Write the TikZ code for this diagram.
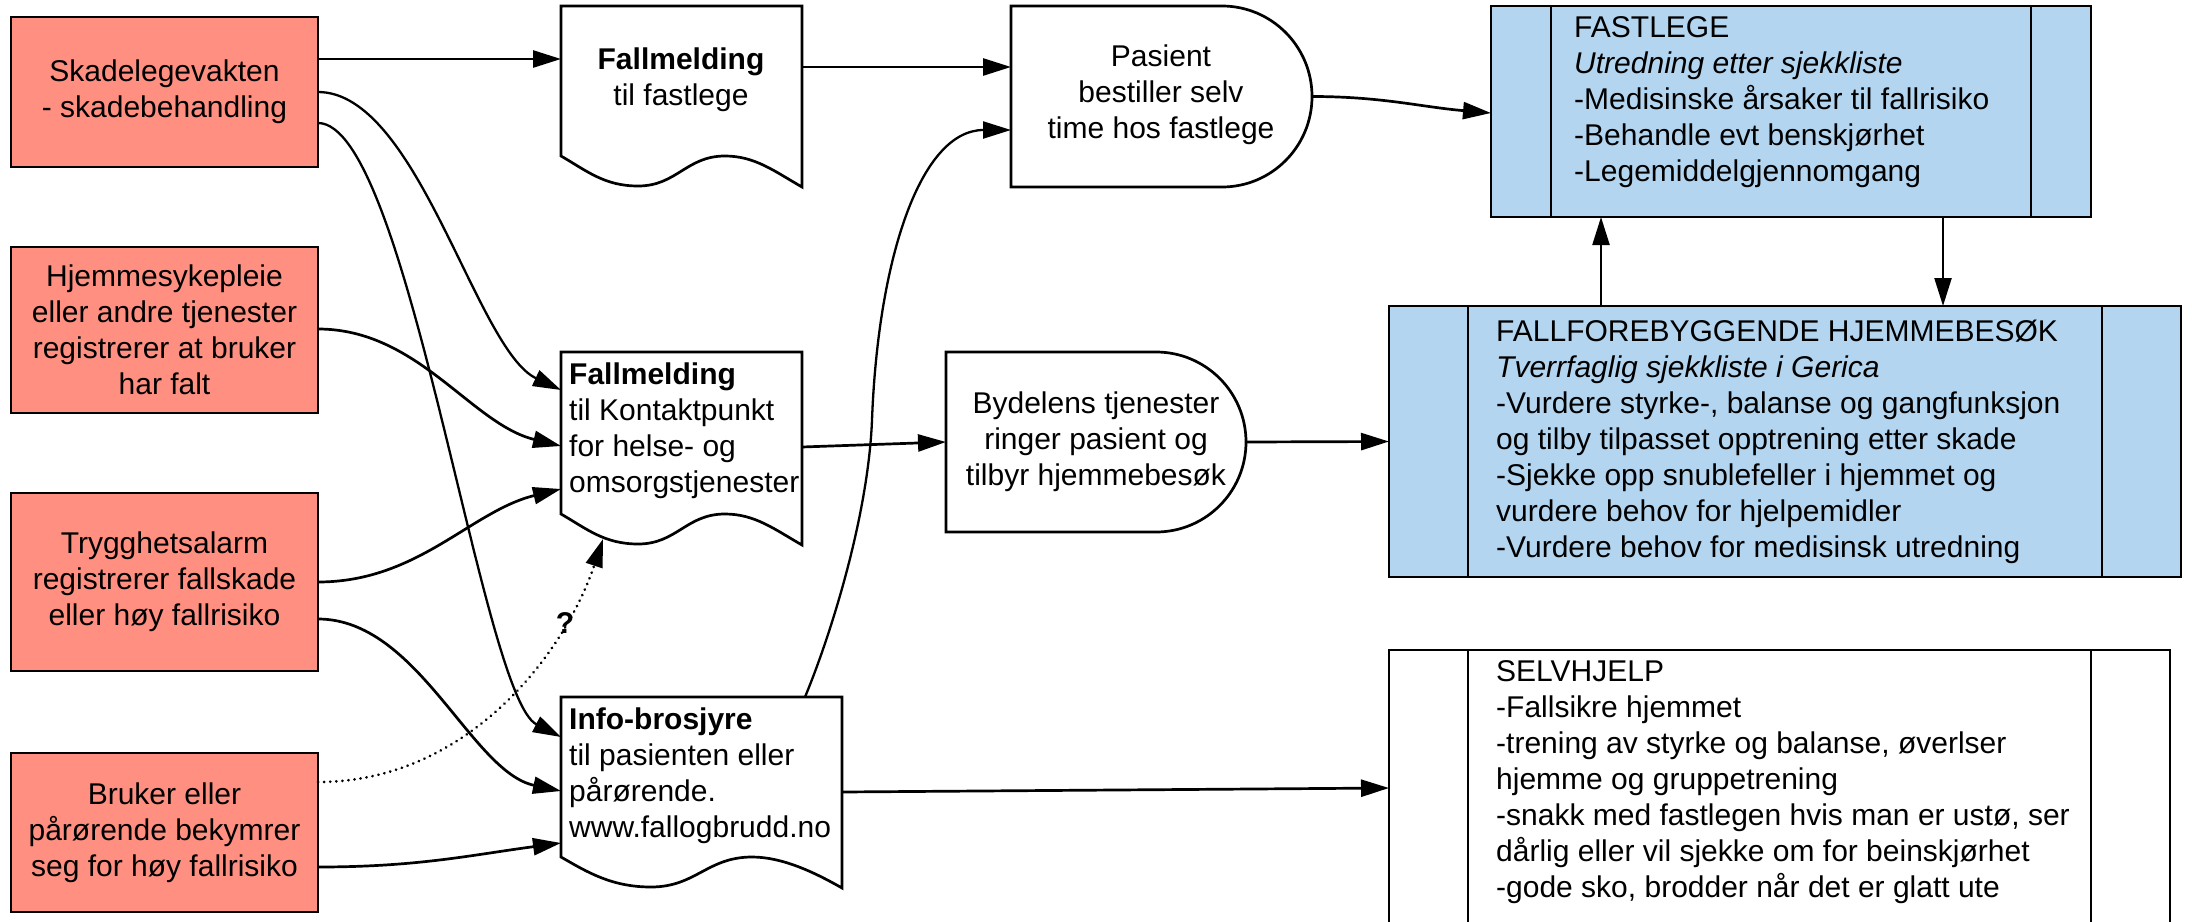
\documentclass[tikz,border=0pt]{standalone}
\usepackage{fontspec}
\setmainfont{Liberation Sans}
\usetikzlibrary{arrows.meta,calc}
\definecolor{redfill}{HTML}{FF8F80}
\definecolor{bluefill}{HTML}{B3D5F0}
\newcommand{\mainfs}{\fontsize{30}{36}\selectfont}
\tikzset{
  frame/.style={rectangle, inner sep=0pt, outer sep=0pt},
  outline/.style={draw=black, line width=2.7pt, line join=miter},
  redbox/.style={draw=black, fill=redfill, line width=2.7pt, outer sep=0pt, inner sep=0pt,
    minimum width=307pt, align=center, font=\mainfs},
  lbl/.style={inner sep=0pt, font=\mainfs},
  conn/.style={line width=2.7pt, -{Triangle[length=28pt,width=17pt]}},
  connthin/.style={line width=2.3pt, -{Triangle[length=28pt,width=17pt]}},
  dotconn/.style={line width=2.9pt, line cap=round, dash pattern=on 0.1pt off 6pt,
    -{Triangle[length=28pt,width=17pt]}},
}
% name, x0, y0, x1, y1
\newcommand{\docshape}[5]{%
  \node[frame, minimum width={#4-#2}, minimum height={#5-#3}] (#1) at ({(#2+#4)/2},{(#3+#5)/2}) {};
  \draw[outline, fill=white] (#2,{#5-31}) -- (#2,#3) -- (#4,#3) -- (#4,#5)
    .. controls ({#4-28},{#5-16}) and ({#2+0.68*(#4-#2)+30},{#5-31}) .. ({#2+0.68*(#4-#2)},{#5-31})
    .. controls ({#2+0.52*(#4-#2)},{#5-31}) and ({#2+0.48*(#4-#2)},{#5-1}) .. ({#2+0.32*(#4-#2)},{#5-1})
    .. controls ({#2+0.18*(#4-#2)},{#5-1}) and ({#2+26},{#5-16}) .. (#2,{#5-31}) -- cycle;
}
\newcommand{\delayshape}[5]{%
  \node[frame, minimum width={#4-#2}, minimum height={#5-#3}] (#1) at ({(#2+#4)/2},{(#3+#5)/2}) {};
  \draw[outline, fill=white] (#2,#3) -- ({#4-90},#3)
    .. controls ({#4-90+49.7},#3) and (#4,{(#3+#5)/2-0.5523*(#5-#3)/2}) .. (#4,{(#3+#5)/2})
    .. controls (#4,{(#3+#5)/2+0.5523*(#5-#3)/2}) and ({#4-90+49.7},#5) .. ({#4-90},#5)
    -- (#2,#5) -- cycle;
}
% name, x0, y0, x1, y1, inset, fill
\newcommand{\procshape}[7]{%
  \node[frame, draw=black, line width=2.7pt, fill=#7, minimum width={#4-#2}, minimum height={#5-#3}]
    (#1) at ({(#2+#4)/2},{(#3+#5)/2}) {};
  \draw[line width=2.4pt] ({#2+#6},#3) -- ({#2+#6},#5) ({#4-#6},#3) -- ({#4-#6},#5);
}
\begin{document}
\begin{tikzpicture}[x=1pt,y=-1pt]
\useasboundingbox (0,0) rectangle (2192,921);
\clip (0,0) rectangle (2192,921);

% red source boxes
\node[redbox, minimum height=150pt] (skade) at (164.5,92) {Skadelegevakten\\- skadebehandling};
\node[redbox, minimum height=166pt] (hjemme) at (164.5,330) {Hjemmesykepleie\\eller andre tjenester\\registrerer at bruker\\har falt};
\node[redbox, minimum height=178pt] (trygg) at (164.5,582) {Trygghetsalarm\\registrerer fallskade\\eller høy fallrisiko};
\node[redbox, minimum height=159pt] (bruker) at (164.5,832.5) {Bruker eller\\pårørende bekymrer\\seg for høy fallrisiko};

% documents
\docshape{docA}{561}{6}{802}{187}
\docshape{docB}{561}{352}{802}{545}
\docshape{docC}{561}{697}{842}{888}
\node[lbl, align=center] (tA) at (681,80) {\textbf{Fallmelding}\\til fastlege};
\node[lbl, align=left, anchor=west] (tB) at (569,431) {\textbf{Fallmelding}\\til Kontaktpunkt\\for helse- og\\omsorgstjenester};
\node[lbl, align=left, anchor=west] (tC) at (569,776) {\textbf{Info-brosjyre}\\til pasienten eller\\pårørende.\\www.fallogbrudd.no};

% delays
\delayshape{delD}{1011}{6}{1312}{187}
\delayshape{delE}{946}{352}{1246}{532}
\node[lbl, align=center] (tD) at (1161,95) {Pasient\\bestiller selv\\time hos fastlege};
\node[lbl, align=center] (tE) at (1096,442) {Bydelens tjenester\\ringer pasient og\\tilbyr hjemmebesøk};

% process boxes
\procshape{fast}{1491}{6}{2091}{217}{60}{bluefill}
\procshape{hjemb}{1389}{306}{2181}{577}{79}{bluefill}
\procshape{selv}{1389}{650}{2170}{960}{79}{white}
\node[lbl, align=left, anchor=west] (tF) at (1574,102) {FASTLEGE\\\textit{Utredning etter sjekkliste}\\-Medisinske årsaker til fallrisiko\\-Behandle evt benskjørhet\\-Legemiddelgjennomgang};
\node[lbl, align=left, anchor=west] (tG) at (1496,442) {FALLFOREBYGGENDE HJEMMEBESØK\\\textit{Tverrfaglig sjekkliste i Gerica}\\-Vurdere styrke-, balanse og gangfunksjon\\og tilby tilpasset opptrening etter skade\\-Sjekke opp snublefeller i hjemmet og\\vurdere behov for hjelpemidler\\-Vurdere behov for medisinsk utredning};
\node[lbl, align=left, anchor=west] (tH) at (1496,782) {SELVHJELP\\-Fallsikre hjemmet\\-trening av styrke og balanse, øverlser\\hjemme og gruppetrening\\-snakk med fastlegen hvis man er ustø, ser\\dårlig eller vil sjekke om for beinskjørhet\\-gode sko, brodder når det er glatt ute};

% connectors
\draw[conn] ($(skade.north east)+(0,42)$) -- ($(docA.north west)+(0,53)$);
\draw[conn] ($(docA.north east)+(0,61)$) -- ($(delD.north west)+(0,61)$);
\draw[conn] (delD.east) .. controls +(70,0) and +(-70,-6) .. ($(fast.north west)+(0,107)$);
\draw[connthin] ($(skade.north east)+(0,75)$) .. controls +(100,0) and +(-85,-40) .. ($(docB.north west)+(0,38)$);
\draw[connthin] ($(skade.north east)+(0,106)$) .. controls +(90,0) and +(-80,-41) .. ($(docC.north west)+(0,40)$);
\draw[conn] ($(hjemme.north east)+(0,82)$) .. controls +(100,0) and +(-90,-22) .. ($(docB.north west)+(0,94)$);
\draw[conn] ($(trygg.north east)+(0,89)$) .. controls +(100,0) and +(-90,22) .. ($(docB.north west)+(0,137)$);
\draw[conn] ($(trygg.north east)+(0,126)$) .. controls +(100,0) and +(-90,-19) .. ($(docC.north west)+(0,94)$);
\draw[conn] ($(bruker.north east)+(0,114)$) .. controls +(100,0) and +(-90,12) .. ($(docC.north west)+(0,146)$);
\draw[dotconn] ($(bruker.north east)+(0,29)$) .. controls +(150,0) and +(-38,114) .. ($(docB.north west)+(42,187)$);
\node[font=\mainfs\bfseries, inner sep=0pt] (qmark) at (565,623) {?};
\coordinate (mid11) at (872,420);
\draw[connthin] ($(docC.north west)+(244,0)$) .. controls (828,642) and (868,520) .. (mid11)
  .. controls (878,260) and (920,130) .. ($(delD.north west)+(0,124)$);
\draw[conn] ($(docB.north east)+(0,95)$) -- (delE.west);
\draw[conn] (delE.east) -- (hjemb.west);
\draw[conn] ($(docC.north east)+(0,95)$) -- ($(selv.north west)+(0,138)$);
\draw[connthin] ($(hjemb.north west)+(212,0)$) -- ($(fast.south west)+(110,0)$);
\draw[connthin] ($(fast.south west)+(452,0)$) -- ($(hjemb.north west)+(554,0)$);
\end{tikzpicture}
\end{document}
